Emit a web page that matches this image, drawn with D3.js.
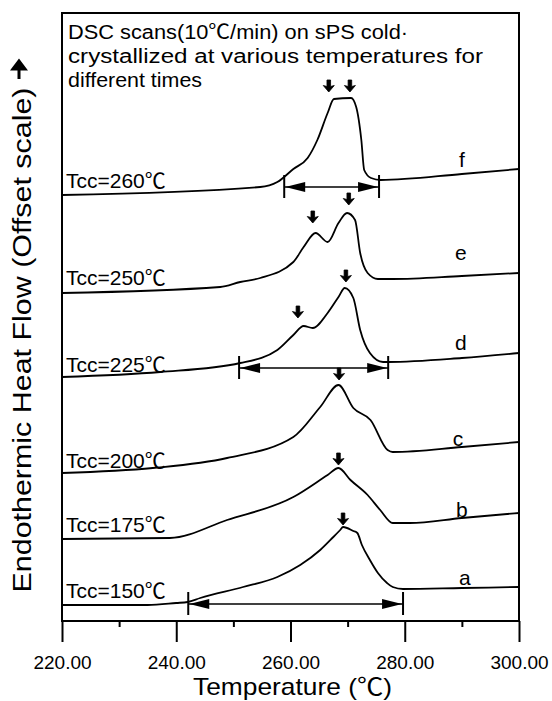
<!DOCTYPE html>
<html>
<head>
<meta charset="utf-8">
<script src="https://cdn.jsdelivr.net/npm/d3@7"></script>
<style>
  body { margin: 0; background: #fff; }
  text { font-family: "Liberation Sans", Arial, sans-serif; fill: #000; }
  .deg { font-family: "Noto Sans CJK KR", "Liberation Sans", sans-serif; }
</style>
</head>
<body>
<div id="chart"></div>
<script>
// DSC scans, temperature (C) vs endothermic heat flow (arbitrary units, offset)
const tccLabels = ["Tcc=150℃", "Tcc=175℃", "Tcc=200℃", "Tcc=225℃", "Tcc=250℃", "Tcc=260℃"];
const curveNames = ["a", "b", "c", "d", "e", "f"];

const tempA = [220, 235, 240, 242, 244.2, 251.7, 257.7, 261.7, 265.2, 267.5, 268.7, 269.2, 271, 271.7, 272.5, 273.9, 275.3, 276.9, 277.9, 279.7, 290, 300];
const flowA = [1.6, 1.6, 1.8, 1.9, 2.3, 3.4, 4.4, 5.6, 7.1, 8.4, 9.1, 9.4, 9.0, 8.8, 7.6, 6.1, 4.8, 3.8, 3.4, 3.2, 3.3, 3.4];

const tempB = [220, 238.9, 248.9, 260.5, 266.5, 268.4, 270.5, 273.5, 275.7, 277.9, 280.9, 290, 300];
const flowB = [8.2, 8.3, 10.1, 12.4, 14.6, 15.3, 14.1, 12.6, 11.1, 9.8, 9.8, 10.3, 10.8];

const tempC = [220, 235.9, 248.9, 260.5, 265.2, 268.4, 271, 274, 277, 277.9, 290, 300];
const flowC = [14.8, 15.3, 16.3, 18.4, 21.4, 23.6, 21.3, 20.1, 17.1, 16.9, 17.4, 17.9];

const tempD = [220, 237.2, 251.2, 257.7, 260.5, 262.3, 263.9, 266.5, 268.4, 269.5, 271, 272.2, 273.9, 276.2, 277.1, 290, 300];
const flowD = [24.4, 24.9, 25.8, 27.1, 28.6, 29.5, 29.3, 30.8, 32.4, 33.3, 32.3, 29.1, 26.8, 25.9, 25.9, 26.3, 26.8];

const tempE = [220, 247.7, 251.2, 254.7, 260.5, 262.3, 264.4, 266.5, 268.4, 269.9, 271.3, 272.2, 273.5, 275.3, 277.9, 290, 300];
const flowE = [32.8, 33.4, 33.9, 34.3, 35.9, 37.4, 38.8, 37.9, 39.8, 40.8, 40.1, 36.8, 34.8, 34.2, 34.2, 34.5, 34.8];

const tempF = [220, 254.7, 257.7, 260.5, 263, 264.7, 266.5, 267.6, 270.6, 271.5, 272.4, 272.9, 274.1, 275.8, 290, 300];
const flowF = [42.6, 43.4, 43.9, 45.2, 46.3, 48.1, 50.8, 52.2, 52.3, 51.4, 48.1, 45.1, 44.3, 44.1, 44.7, 45.2];

// peak markers (temperature, heat flow at arrow tip)
const peakT = [269.2, 268.4, 268.5, 261.3, 269.7, 263.9, 270.2, 266.7, 270.4];
const peakV = [9.6, 15.6, 24.1, 30.3, 33.9, 39.8, 41.6, 52.9, 52.9];

// melting range markers
const rangeStart = [242.1, 251.0, 258.9];
const rangeEnd = [279.7, 277.1, 275.5];
const rangeV = [1.7, 25.3, 43.4];

// label positions in data units
const tccLabelV = [2.3, 8.9, 15.3, 24.9, 33.6, 43.3];
const nameT = [290.5, 290, 289.3, 289.8, 289.8, 290];
const nameV = [3.6, 10.4, 17.5, 27.1, 36.1, 45.4];

const xTicks = [220, 240, 260, 280, 300];
const xMinor = [230, 250, 270, 290];
const titleLines = ["DSC scans(10℃/min) on sPS cold·", "crystallized at various temperatures for", "different times"];
const titleWidths = [340, 415, 134];

const series = [[tempA, flowA], [tempB, flowB], [tempC, flowC], [tempD, flowD], [tempE, flowE], [tempF, flowF]]
  .map(s => s[0].map((t, i) => ({t: t, v: s[1][i]})));

// put the degree sign in its own tspan so it gets the wide CJK glyph
function degText(sel) {
  sel.each(function(d) {
    var parts = d.split("℃");
    var t = d3.select(this);
    parts.forEach(function(p, i) {
      if (p.length) t.append("tspan").text(p);
      if (i < parts.length - 1) t.append("tspan").attr("class", "deg").text("℃");
    });
  });
}

var margin = {top: 13, right: 33, bottom: 80, left: 62},
    width = 552 - margin.left - margin.right,
    height = 701 - margin.top - margin.bottom;

var svg = d3.select("#chart")
  .append("svg")
    .attr("width", 552)
    .attr("height", 701)
  .append("g")
    .attr("transform", "translate(" + margin.left + "," + margin.top + ")");

var x = d3.scaleLinear()
    .domain([220, 300])
    .range([0, width]);

var y = d3.scaleLinear()
    .domain([0, 60.8])
    .range([height, 0]);

// frame
svg.append("rect")
    .attr("x", 0).attr("y", 0)
    .attr("width", width).attr("height", height)
    .attr("fill", "none")
    .attr("stroke", "#000")
    .attr("stroke-width", 2);

// bottom axis, major and minor ticks
var xAxis = svg.append("g")
    .attr("transform", "translate(0," + height + ")")
    .call(d3.axisBottom(x).tickValues(xTicks).tickSize(21).tickFormat(d3.format(".2f")));
xAxis.select(".domain").remove();
xAxis.selectAll("line").attr("stroke-width", 2);
xAxis.selectAll("text")
    .attr("y", 48).attr("dy", 0)
    .style("font-family", "'Liberation Sans', Arial, sans-serif")
    .style("font-size", "19px");

var xAxisMinor = svg.append("g")
    .attr("transform", "translate(0," + height + ")")
    .call(d3.axisBottom(x).tickValues(xMinor).tickSize(6).tickFormat(""));
xAxisMinor.select(".domain").remove();
xAxisMinor.selectAll("line").attr("stroke-width", 2);

svg.append("text")
    .datum("Temperature (℃)")
    .attr("x", width / 2 + 2)
    .attr("y", height + 74)
    .attr("text-anchor", "middle")
    .attr("textLength", 199)
    .attr("lengthAdjust", "spacingAndGlyphs")
    .style("font-size", "24px")
    .call(degText);

// y label with arrow
svg.append("text")
    .text("Endothermic Heat Flow (Offset scale)")
    .attr("transform", "translate(-31," + (340 - margin.top) + ") rotate(-90)")
    .attr("text-anchor", "middle")
    .attr("textLength", 505)
    .attr("lengthAdjust", "spacingAndGlyphs")
    .style("font-size", "25px");
svg.append("path")
    .attr("d", "M-43,66 L-43,52 M-49,56 L-43,48 L-37,56 Z")
    .attr("stroke", "#000")
    .attr("stroke-width", 3)
    .attr("fill", "#000");

// title inside frame
svg.append("g").selectAll("text")
    .data(titleLines)
    .enter()
    .append("text")
    .attr("x", 6)
    .attr("y", (d, i) => 26 + i * 24)
    .attr("textLength", (d, i) => titleWidths[i])
    .attr("lengthAdjust", "spacingAndGlyphs")
    .style("font-size", "20px")
    .call(degText);

// curves
var line = d3.line()
    .x(d => x(d.t))
    .y(d => y(d.v))
    .curve(d3.curveMonotoneX);

svg.append("g").selectAll("path")
    .data(series)
    .enter()
    .append("path")
    .attr("d", line)
    .attr("fill", "none")
    .attr("stroke", "#000")
    .attr("stroke-width", 1.8);

// Tcc labels and curve letters
svg.append("g").selectAll("text")
    .data(tccLabels)
    .enter()
    .append("text")
    .attr("x", 4)
    .attr("y", (d, i) => y(tccLabelV[i]))
    .style("font-size", "21px")
    .call(degText);

svg.append("g").selectAll("text")
    .data(curveNames)
    .enter()
    .append("text")
    .text(d => d)
    .attr("x", (d, i) => x(nameT[i]))
    .attr("y", (d, i) => y(nameV[i]))
    .attr("text-anchor", "middle")
    .style("font-size", "21px");

// peak arrows
svg.append("g").selectAll("path")
    .data(peakT)
    .enter()
    .append("path")
    .attr("transform", (d, i) => "translate(" + x(d) + "," + y(peakV[i]) + ")")
    .attr("d", "M0,0 L-5.5,-6.5 L-1.8,-5.5 L-1.8,-12 L1.8,-12 L1.8,-5.5 L5.5,-6.5 Z")
    .attr("fill", "#000")
    .attr("stroke", "#000")
    .attr("stroke-width", 0.8)
    .attr("stroke-linejoin", "round");

// melting range double arrows
var ranges = svg.append("g").selectAll("g")
    .data(rangeStart)
    .enter()
    .append("g")
    .attr("transform", (d, i) => "translate(0," + y(rangeV[i]) + ")");
ranges.append("line")
    .attr("x1", d => x(d)).attr("x2", (d, i) => x(rangeEnd[i]))
    .attr("stroke", "#000").attr("stroke-width", 1.5);
ranges.append("line")
    .attr("x1", d => x(d)).attr("x2", d => x(d))
    .attr("y1", -12).attr("y2", 11)
    .attr("stroke", "#000").attr("stroke-width", 2);
ranges.append("line")
    .attr("x1", (d, i) => x(rangeEnd[i])).attr("x2", (d, i) => x(rangeEnd[i]))
    .attr("y1", -12).attr("y2", 11)
    .attr("stroke", "#000").attr("stroke-width", 2);
ranges.append("path")
    .attr("d", d => "M" + (x(d) + 1) + ",0 L" + (x(d) + 21) + ",-5 L" + (x(d) + 21) + ",5 Z")
    .attr("fill", "#000");
ranges.append("path")
    .attr("d", (d, i) => "M" + (x(rangeEnd[i]) - 1) + ",0 L" + (x(rangeEnd[i]) - 21) + ",-5 L" + (x(rangeEnd[i]) - 21) + ",5 Z")
    .attr("fill", "#000");
</script>
</body>
</html>
